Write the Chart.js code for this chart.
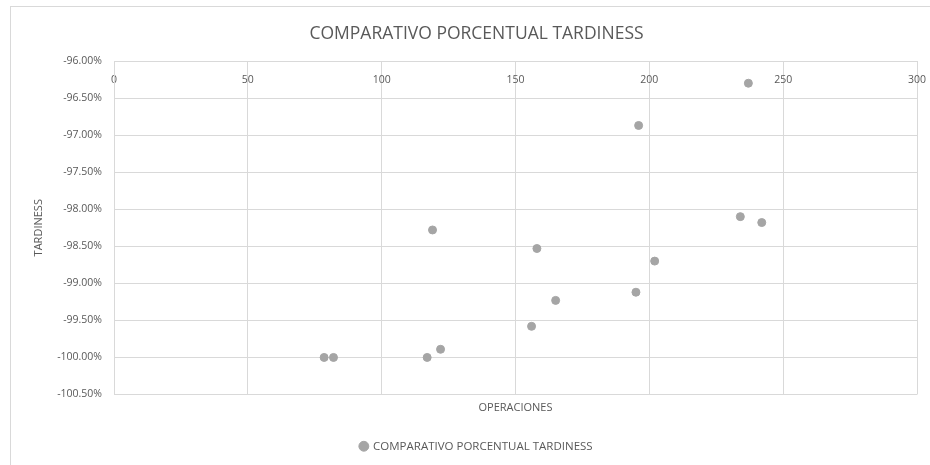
<!DOCTYPE html>
<html>
<head>
<meta charset="utf-8">
<script src="https://cdn.jsdelivr.net/npm/chart.js@4/dist/chart.umd.min.js"></script>
<style>
    html, body { margin: 0; padding: 0; background: #fff; overflow: hidden; }
    #frame { position: absolute; left: 10px; top: 6px; width: 940px; height: 480px; border: 1px solid #d9d9d9; }
    #wrap { position: absolute; left: 0; top: 0; width: 930px; height: 465px; }
</style>
</head>
<body>
<div id="frame"></div>
<div id="wrap"><canvas id="scatterChart" width="930" height="465"></canvas></div>
<script>
const operaciones = [237, 196, 234, 242, 119, 158, 202, 195, 165, 156, 122, 117, 78.5, 82];
const tardiness = [-96.30, -96.87, -98.10, -98.18, -98.28, -98.53, -98.70, -99.12, -99.23, -99.58, -99.89, -100.00, -100.00, -100.00];
const xTicks = [0, 50, 100, 150, 200, 250, 300];
const yTicks = [-100.5, -100, -99.5, -99, -98.5, -98, -97.5, -97, -96.5, -96];

const seriesName = 'COMPARATIVO PORCENTUAL TARDINESS';
const textColor = '#595959';
const gridColor = '#d9d9d9';
const fontFamily = '"Open Sans", "Noto Sans", sans-serif';

const points = operaciones.map((x, i) => ({ x: x, y: tardiness[i] }));

const ctx = document.getElementById('scatterChart').getContext('2d');
new Chart(ctx, {
    type: 'scatter',
    data: {
        datasets: [{
            label: seriesName,
            data: points,
            backgroundColor: '#a5a5a5',
            borderColor: '#a5a5a5',
            pointRadius: 4,
            pointHoverRadius: 4
        }]
    },
    options: {
        responsive: false,
        animation: false,
        layout: { padding: { left: 36, right: 13, top: 0, bottom: 3 } },
        scales: {
            x: {
                type: 'linear',
                min: 0, max: 300,
                position: { y: -96 },
                afterBuildTicks: s => { s.ticks = xTicks.map(v => ({ value: v })); },
                // let the "300" label hang past the plot edge like Excel does
                afterFit: s => { s.paddingRight = 0; s.paddingLeft = 0; },
                grid: { color: gridColor, drawTicks: false },
                border: { color: gridColor },
                ticks: { color: textColor, padding: 13, font: { family: fontFamily, size: 10.5 } }
            },
            x2: {
                type: 'linear',
                min: 0, max: 300,
                position: 'bottom',
                grid: { display: false },
                border: { display: false },
                ticks: { display: false },
                title: {
                    display: true, text: 'OPERACIONES', color: textColor,
                    font: { family: fontFamily, size: 11 },
                    padding: { top: 0, bottom: 16 }
                },
                afterFit: s => { s.height = 36; s.paddingRight = 0; s.paddingLeft = 0; }
            },
            y: {
                type: 'linear',
                min: -100.5, max: -96,
                afterBuildTicks: s => { s.ticks = yTicks.map(v => ({ value: v })); },
                grid: { color: gridColor, drawTicks: false },
                border: { color: gridColor },
                ticks: {
                    color: textColor, padding: 12,
                    font: { family: fontFamily, size: 10.5 },
                    callback: v => v.toFixed(2) + '%'
                },
                title: {
                    display: true, text: 'TARDINESS', color: textColor,
                    font: { family: fontFamily, size: 11 },
                    padding: { top: -4, bottom: 0 }
                },
                afterFit: s => { s.width = 78; }
            }
        },
        plugins: {
            title: {
                display: true,
                text: seriesName,
                color: textColor,
                font: { family: fontFamily, size: 17.5, weight: 'normal' },
                padding: { top: 24, bottom: 16 }
            },
            legend: {
                position: 'bottom',
                labels: {
                    color: textColor,
                    usePointStyle: true,
                    pointStyle: 'circle',
                    boxWidth: 7, boxHeight: 7,
                    padding: 10,
                    font: { family: fontFamily, size: 11.5 }
                }
            },
            tooltip: { enabled: false }
        }
    }
});
</script>
</body>
</html>
